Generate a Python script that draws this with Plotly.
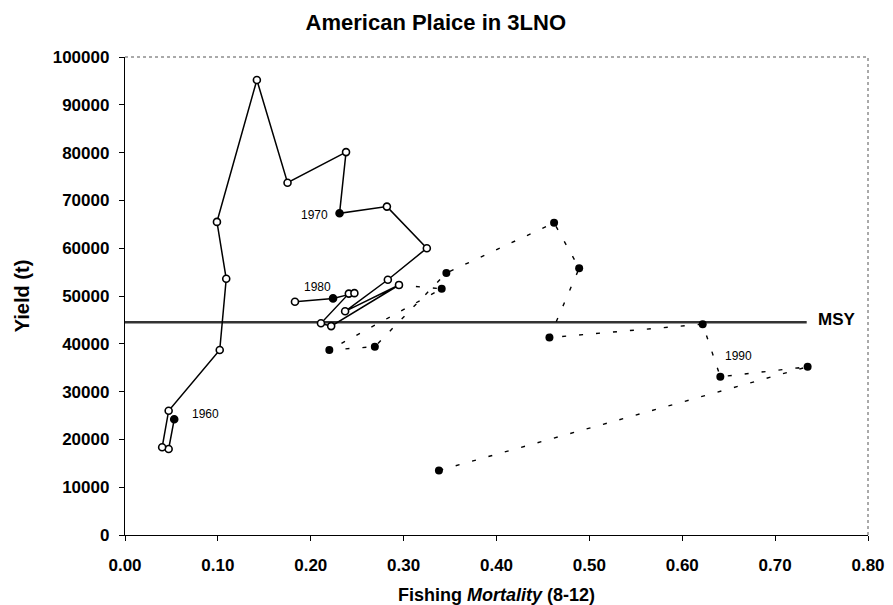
import plotly.graph_objects as go

# ---- data ----
solid_years = list(range(1960, 1982))
solid_f = [0.053, 0.047, 0.040, 0.047, 0.102, 0.109, 0.099, 0.142, 0.175, 0.238, 0.231,
           0.282, 0.325, 0.283, 0.237, 0.295, 0.222, 0.211, 0.241, 0.247, 0.224, 0.183]
solid_yield = [24200, 18000, 18350, 26000, 38700, 53600, 65500, 95200, 73700, 80100, 67300,
               68700, 60000, 53400, 46800, 52300, 43700, 44300, 50500, 50600, 49500, 48800]

dashed_years = list(range(1981, 1993))
dashed_f = [0.295, 0.341, 0.220, 0.269, 0.346, 0.462, 0.489, 0.457, 0.622, 0.641, 0.735, 0.338]
dashed_yield = [52300, 51500, 38700, 39400, 54800, 65300, 55800, 41300, 44100, 33100, 35200, 13500]

msy_yield = 44500
msy_f = [0.0, 0.734]

labelled_years = [1960, 1970, 1980, 1990]
label_shifts = {1960: (31, 5), 1970: (-25, -2), 1980: (-16, 11), 1990: (18, 21)}

x_ticks = [0.0, 0.1, 0.2, 0.3, 0.4, 0.5, 0.6, 0.7, 0.8]
y_ticks = list(range(0, 100001, 10000))

FONT = "Liberation Sans"

# ---- figure ----
fig = go.Figure()

fig.add_trace(go.Scatter(
    x=msy_f, y=[msy_yield, msy_yield], mode="lines",
    line=dict(color="#333333", width=2.4), hoverinfo="skip", showlegend=False))

fig.add_trace(go.Scatter(
    x=dashed_f, y=dashed_yield, mode="lines+markers",
    line=dict(color="black", width=1.4, dash="4px,13px"),
    marker=dict(symbol="circle", size=8, color="black"),
    showlegend=False))

fill_colors = ["black" if y in labelled_years else "white" for y in solid_years]
fig.add_trace(go.Scatter(
    x=solid_f, y=solid_yield, mode="lines+markers",
    line=dict(color="black", width=1.5),
    marker=dict(symbol="circle", size=7, color=fill_colors,
                line=dict(color="black", width=1.6)),
    showlegend=False))

# year labels
for yr in labelled_years:
    if yr in solid_years:
        i = solid_years.index(yr); xv, yv = solid_f[i], solid_yield[i]
    else:
        i = dashed_years.index(yr); xv, yv = dashed_f[i], dashed_yield[i]
    dx, dy = label_shifts[yr]
    fig.add_annotation(x=xv, y=yv, text=str(yr), showarrow=False,
                       xshift=dx, yshift=dy,
                       font=dict(family=FONT, size=12, color="black"))

fig.add_annotation(x=msy_f[1], y=msy_yield, text="MSY", showarrow=False,
                   xanchor="left", xshift=9, yshift=3,
                   font=dict(family=FONT, size=17, color="black", weight="bold"))

# dotted top and right frame
fig.add_shape(type="line", xref="paper", yref="paper", x0=0, x1=1, y0=1, y1=1,
              line=dict(color="#555555", width=1, dash="dot"))
fig.add_shape(type="line", xref="paper", yref="paper", x0=1, x1=1, y0=0, y1=1,
              line=dict(color="#555555", width=1, dash="dot"))

fig.update_layout(
    width=893, height=605,
    margin=dict(l=125, r=25, t=57, b=70),
    plot_bgcolor="white", paper_bgcolor="white",
    title=dict(text="American Plaice in 3LNO", x=0.488, xanchor="center",
               y=0.963, yanchor="middle",
               font=dict(family=FONT, size=22, color="black", weight="bold")),
    font=dict(family=FONT, color="black"),
)

fig.update_xaxes(
    range=[0, 0.8], tickvals=x_ticks, tickformat=".2f", automargin=False,
    showgrid=False, zeroline=False, showline=True, linecolor="black", linewidth=1.3,
    ticks="outside", ticklen=5, tickcolor="black", ticklabelstandoff=9,
    tickfont=dict(family=FONT, size=17, weight="bold"),
    title=dict(text="Fishing <i>Mortality</i> (8-12)", standoff=17,
               font=dict(family=FONT, size=18, weight="bold")),
)
fig.update_yaxes(
    range=[0, 100000], tickvals=y_ticks, tickformat="d", automargin=False,
    showgrid=False, zeroline=False, showline=True, linecolor="black", linewidth=1.3,
    ticks="outside", ticklen=5, tickcolor="black", ticklabelstandoff=6,
    tickfont=dict(family=FONT, size=17, weight="bold"),
    title=dict(text="Yield (t)", standoff=17,
               font=dict(family=FONT, size=20, weight="bold")),
)

fig.write_html("out.html", config={"displayModeBar": False},
               post_script="document.body.style.margin='0';document.body.style.overflow='hidden';")
